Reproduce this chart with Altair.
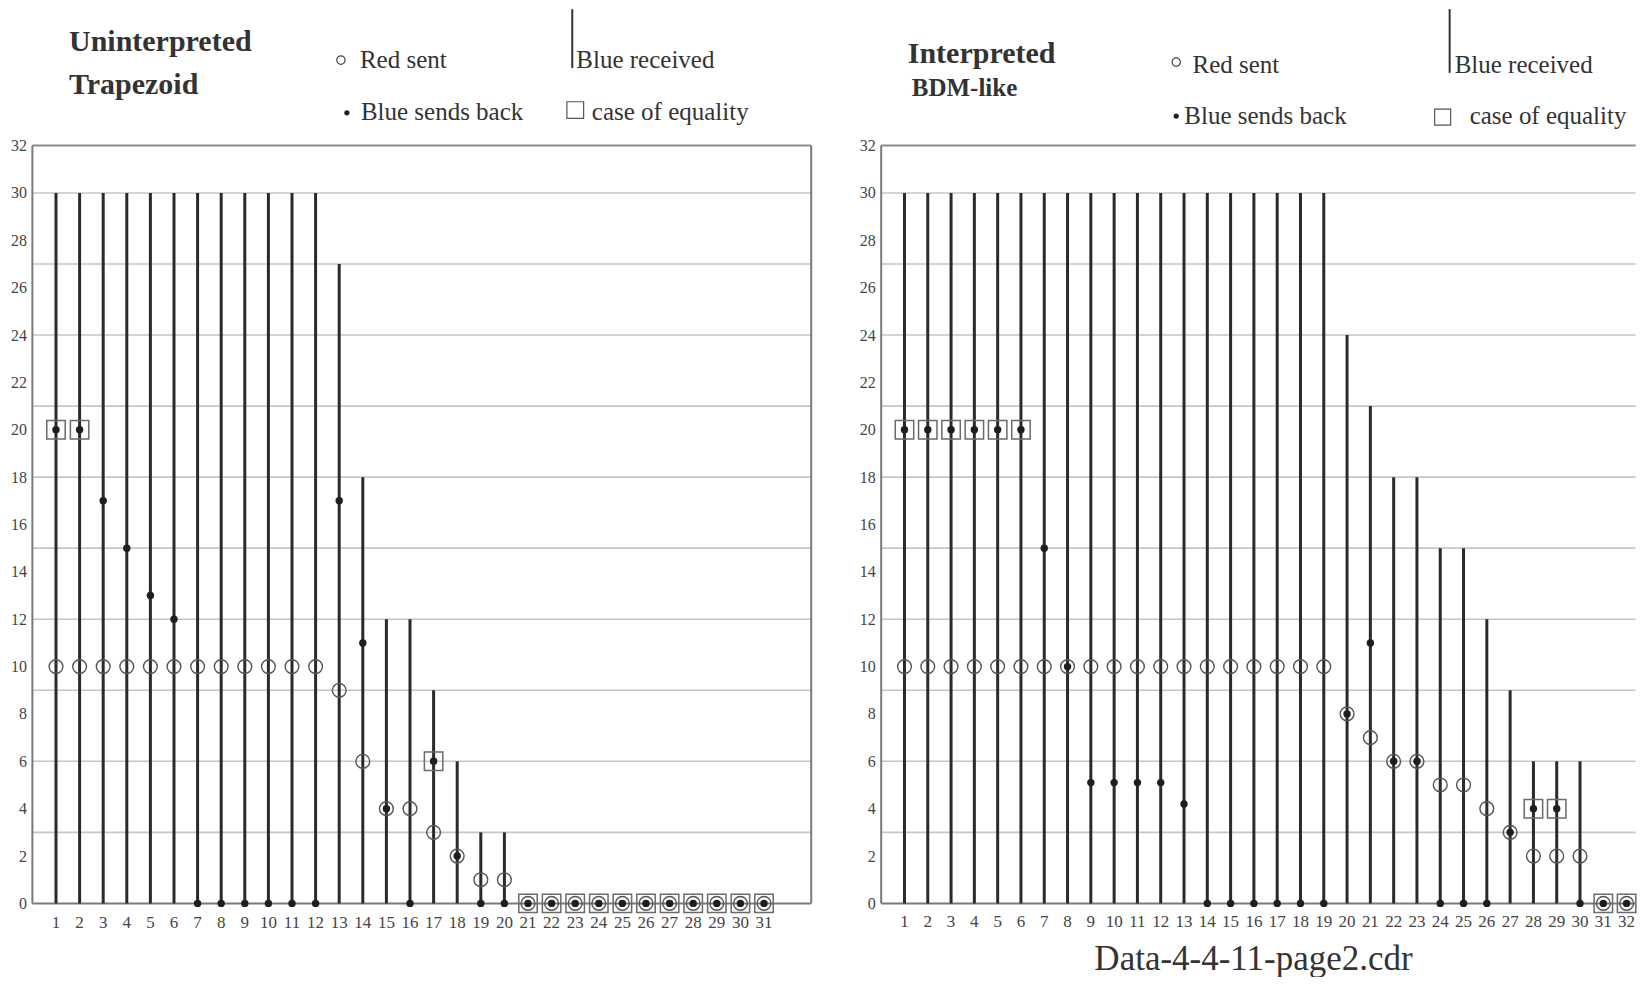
import altair as alt
import pandas as pd

SERIF = "Liberation Serif"

# ---------------- data: left panel ("Uninterpreted / Trapezoid") ----------------
left_ids = list(range(1, 32))
left_received = [30, 30, 30, 30, 30, 30, 30, 30, 30, 30, 30, 30, 27, 18, 12, 12, 9, 6, 3, 3,
                 0, 0, 0, 0, 0, 0, 0, 0, 0, 0, 0]
left_sent = [10, 10, 10, 10, 10, 10, 10, 10, 10, 10, 10, 10, 9, 6, 4, 4, 3, 2, 1, 1,
             0, 0, 0, 0, 0, 0, 0, 0, 0, 0, 0]
left_back = [20, 20, 17, 15, 13, 12, 0, 0, 0, 0, 0, 0, 17, 11, 4, 0, 6, 2, 0, 0,
             0, 0, 0, 0, 0, 0, 0, 0, 0, 0, 0]
left_equal = [1, 2, 17, 21, 22, 23, 24, 25, 26, 27, 28, 29, 30, 31]

# ---------------- data: right panel ("Interpreted / BDM-like") ----------------
right_ids = list(range(1, 33))
right_received = [30, 30, 30, 30, 30, 30, 30, 30, 30, 30, 30, 30, 30, 30, 30, 30, 30, 30, 30,
                  24, 21, 18, 18, 15, 15, 12, 9, 6, 6, 6, 0, 0]
right_sent = [10, 10, 10, 10, 10, 10, 10, 10, 10, 10, 10, 10, 10, 10, 10, 10, 10, 10, 10,
              8, 7, 6, 6, 5, 5, 4, 3, 2, 2, 2, 0, 0]
right_back = [20, 20, 20, 20, 20, 20, 15, 10, 5.1, 5.1, 5.1, 5.1, 4.2, 0, 0, 0, 0, 0, 0,
              8, 11, 6, 6, 0, 0, 0, 3, 4, 4, 0, 0, 0]
right_equal = [1, 2, 3, 4, 5, 6, 28, 29, 31, 32]

# ---------------- texts / ticks ----------------
left_title = ["Uninterpreted", "Trapezoid"]
right_title = ["Interpreted", "BDM-like"]
legend_labels = ["Red sent", "Blue received", "Blue sends back", "case of equality"]
caption_text = ["Data-4-4-11-page2.cdr"]
y_tick_values = [0, 2, 4, 6, 8, 10, 12, 14, 16, 18, 20, 22, 24, 26, 28, 30, 32]
grid_levels = [3, 6, 9, 12, 15, 18, 21, 24, 27, 30]
frame_top = [32]

# ---------------- layout constants ----------------
H = 964
PX_PER_UNIT = 23.6875
YMAX = 32 + 136.5 / PX_PER_UNIT
YMIN = YMAX - H / PX_PER_UNIT

YS = alt.Scale(domain=[YMIN, YMAX], nice=False, zero=False)
YAXIS = alt.Axis(values=y_tick_values, grid=False, ticks=False, domain=False,
                 labelFont=SERIF, labelFontSize=16, labelColor="#444",
                 labelPadding=6, title=None)


def Y(field):
    return alt.Y(field, type="quantitative", scale=YS, axis=YAXIS)


def text_layer(s, x, y, size, weight="normal", align="left"):
    return alt.Chart(pd.DataFrame({"t": [s]})).mark_text(
        align=align, baseline="alphabetic", font=SERIF, fontSize=size,
        fontWeight=weight, color="#333"
    ).encode(x=alt.value(x), y=alt.value(y), text="t:N")


def sym_layer(x, y, shape, size, filled, color, sw=1.2):
    return alt.Chart(pd.DataFrame({"k": [0]})).mark_point(
        shape=shape, size=size, filled=filled, color=color, strokeWidth=sw, opacity=1
    ).encode(x=alt.value(x), y=alt.value(y))


def panel(ids, received, sent, back, equal, xmax, width, label_dy, legend, right_frame):
    df = pd.DataFrame({"id": ids, "received": received, "sent": sent, "back": back,
                       "base": [0] * len(ids)})
    eq = df[df["id"].isin(equal)]
    X = alt.X("id:Q", scale=alt.Scale(domain=[0, xmax], nice=False, zero=False), axis=None)

    grid = alt.Chart(pd.DataFrame({"g": grid_levels})).mark_rule(
        color="#c6c6c6", strokeWidth=1.6
    ).encode(y=Y("g"), x=alt.value(0), x2=alt.value(width))

    top = alt.Chart(pd.DataFrame({"g": frame_top})).mark_rule(
        color="#8a8a8a", strokeWidth=2
    ).encode(y=Y("g"), x=alt.value(0), x2=alt.value(width))

    bottom = alt.Chart(pd.DataFrame({"g": [0]})).mark_rule(
        color="#7a7a7a", strokeWidth=2
    ).encode(y=Y("g"), x=alt.value(0), x2=alt.value(width))

    vdf = pd.DataFrame({"y0": [0], "y1": frame_top})
    leftline = alt.Chart(vdf).mark_rule(color="#7a7a7a", strokeWidth=2).encode(
        x=alt.value(0), y=Y("y0"), y2=alt.Y2("y1"))
    layers = [grid, top, bottom, leftline]
    if right_frame:
        layers.append(alt.Chart(vdf).mark_rule(color="#7a7a7a", strokeWidth=2).encode(
            x=alt.value(width), y=Y("y0"), y2=alt.Y2("y1")))

    bars = alt.Chart(df).mark_rule(color="#2a2a2a", strokeWidth=3).encode(
        x=X, y=Y("base"), y2=alt.Y2("received"))
    circles = alt.Chart(df).mark_point(
        shape="circle", filled=False, size=190, color="#555", strokeWidth=1.4, opacity=1
    ).encode(x=X, y=Y("sent"))
    boxes = alt.Chart(eq).mark_point(
        shape="square", filled=False, size=340, color="#6a6a6a", strokeWidth=1.5, opacity=1
    ).encode(x=X, y=Y("back"))
    dots = alt.Chart(df).mark_point(
        shape="circle", filled=True, size=55, color="#1e1e1e", opacity=1
    ).encode(x=X, y=Y("back"))
    xlabels = alt.Chart(df).mark_text(
        font=SERIF, fontSize=17, color="#444", baseline="alphabetic", dy=label_dy
    ).encode(x=X, y=Y("base"), text=alt.Text("id:Q", format="d"))

    layers += [bars, circles, boxes, dots, xlabels] + legend
    return alt.layer(*layers).properties(width=width, height=H)


# ---------------- legends ----------------
left_legend = [
    text_layer(left_title[0], 36.6, 42, 30, "bold"),
    text_layer(left_title[1], 36.6, 85, 30, "bold"),
    sym_layer(308.6, 51, "circle", 70, False, "#444"),
    text_layer(legend_labels[0], 327.6, 58.7, 25),
    alt.Chart(pd.DataFrame({"k": [0]})).mark_rule(color="#333", strokeWidth=2).encode(
        x=alt.value(540), y=alt.value(0), y2=alt.value(59)),
    text_layer(legend_labels[1], 544.1, 58.7, 25),
    sym_layer(314.6, 103.7, "circle", 28, True, "#222"),
    text_layer(legend_labels[2], 328.6, 111.3, 25),
    sym_layer(543, 101, "square", 280, False, "#555"),
    text_layer(legend_labels[3], 559.6, 111.3, 25),
]

right_legend = [
    text_layer(right_title[0], 26.6, 53.7, 30, "bold"),
    text_layer(right_title[1], 30.6, 87, 25, "bold"),
    sym_layer(295.1, 53, "circle", 70, False, "#444"),
    text_layer(legend_labels[0], 311.4, 63.7, 25),
    alt.Chart(pd.DataFrame({"k": [0]})).mark_rule(color="#333", strokeWidth=2).encode(
        x=alt.value(568.6), y=alt.value(0), y2=alt.value(63.7)),
    text_layer(legend_labels[1], 573.6, 63.7, 25),
    sym_layer(295.1, 107, "circle", 28, True, "#222"),
    text_layer(legend_labels[2], 303.2, 115.3, 25),
    sym_layer(561.6, 108, "square", 256, False, "#555"),
    text_layer(legend_labels[3], 588.6, 115.3, 25),
    text_layer(caption_text[0], 372.4, 961, 35, "normal", "center"),
]

LEFT_W = 779
RIGHT_W = 754.6
left = panel(left_ids, left_received, left_sent, left_back, left_equal,
             33, LEFT_W, 25, left_legend, True)
right = panel(right_ids, right_received, right_sent, right_back, right_equal,
              RIGHT_W / 23.3, RIGHT_W, 23.5, right_legend, False)

chart = alt.hconcat(left, right, spacing=47).properties(
    padding={"left": 2.4, "top": 0, "right": 0, "bottom": 0},
    background="white",
).configure_view(stroke=None)

chart.save("out.html", embed_options={"renderer": "svg", "actions": False})
